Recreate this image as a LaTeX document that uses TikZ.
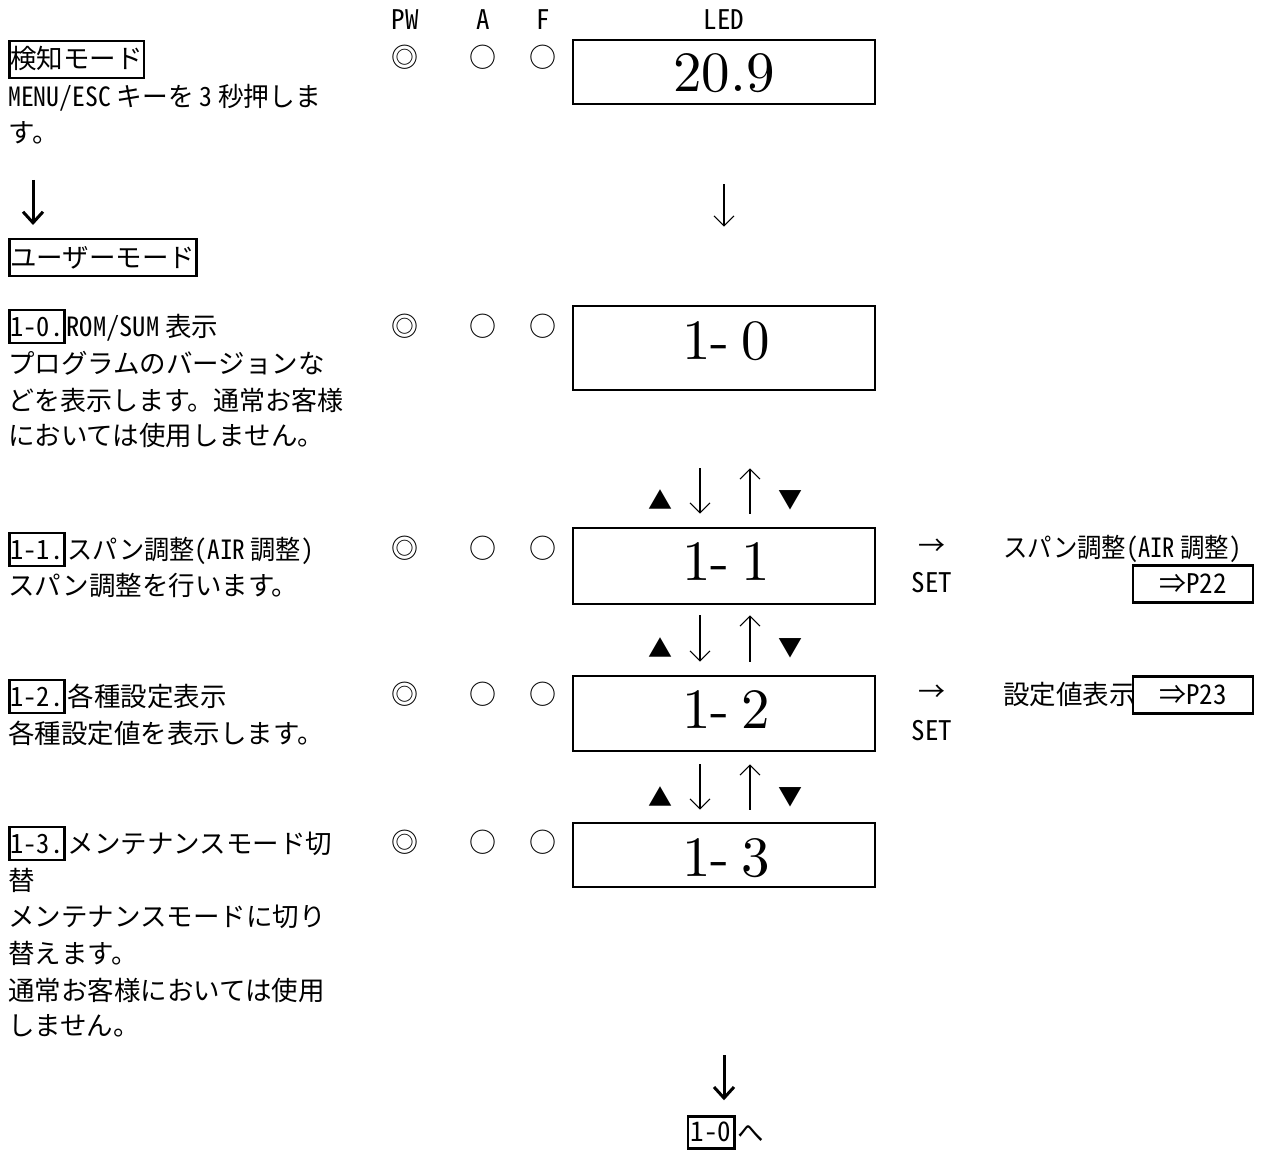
\documentclass[tikz,border=0pt]{standalone}
\usepackage{graphicx}
\usepackage{fontspec}
\newfontfamily\jp{Noto Sans CJK JP}
\newfontfamily\hw[RawFeature=+hwid]{Noto Sans CJK JP}
\newfontfamily\lmten{lmroman10-regular.otf}
\newcommand{\hwt}[1]{{\hw #1}}
\usetikzlibrary{arrows.meta}
\tikzset{
  jt/.style={font=\jp\fontsize{26.5}{36}\selectfont, inner sep=0pt, anchor=base west},
  lbox/.style={draw, line width=2.5pt, font=\jp\fontsize{26.5}{36}\selectfont, inner xsep=1pt, inner ysep=2pt, text height=24pt, text depth=5pt, anchor=base west},
  hbox/.style={lbox, inner ysep=4pt, line width=2.8pt},
  led/.style={draw, line width=2.6pt, minimum width=302pt, inner sep=0pt},
  ledtxt/.style={font=\lmten\fontsize{57}{60}\selectfont, inner sep=0pt},
  ind/.style={font=\jp\fontsize{27}{30}\selectfont, inner sep=0pt},
  hdr/.style={font=\hw\fontsize{27}{30}\selectfont, inner sep=0pt},
  tri/.style={font=\jp\fontsize{24}{30}\selectfont, inner sep=0pt},
  pbox/.style={draw, line width=2.5pt, minimum width=120pt, minimum height=37pt, inner sep=0pt, font=\hw\fontsize{27}{30}\selectfont},
  tarr/.style={line width=1.1pt, -{Straight Barb[length=10pt,width=20pt]}},
  barr/.style={line width=3pt, -{Straight Barb[length=11pt,width=20pt]}},
}
\begin{document}
\begin{tikzpicture}[x=1pt,y=-1pt]
\useasboundingbox (0,0) rectangle (1262,1153);
% header
\node[hdr] (hpw) at (405,20) {PW};
\node[hdr] (ha) at (483,20) {A};
\node[hdr] (hf) at (543,20) {F};
\node[hdr] (hled) at (724,20) {LED};
% detection mode
\node[hbox] (m0) at (8,69) {検知モード};
\node[jt] (t0a) at (8,107) {\scalebox{0.97}[1]{\hwt{MENU/ESC} キーを \hwt{3} 秒押しま}};
\node[jt] (t0b) at (8,143) {す。};
\node[ind] (p0) at (405,57) {◎};
\node[ind] (a0) at (483,57) {○};
\node[ind] (f0) at (543,57) {○};
\node[led, minimum height=64pt] (b0) at (724,72) {};
\node[ledtxt] (d0) at (724,73) {20.9};
% user mode
\coordinate (la) at (33,180);
\coordinate (lb) at (33,225);
\draw[barr] (la) -- (lb);
\node[hbox] (um) at (8,267) {ユーザーモード};
% 1-0
\node[lbox] (l10) at (8,336) {\hwt{1-0.}};
\node[jt] (t10) at ([xshift=1pt]l10.east |- 0,336) {\hwt{ROM/SUM} 表示};
\node[jt] (t10a) at (8,373) {プログラムのバージョンな};
\node[jt] (t10b) at (8,410) {\scalebox{0.98}[1]{どを表示します。通常お客様}};
\node[jt] (t10c) at (8,445) {においては使用しません。};
\node[ind] (p10) at (405,326) {◎};
\node[ind] (a10) at (483,326) {○};
\node[ind] (f10) at (543,326) {○};
\node[led, minimum height=84pt] (b10) at (724,348) {};
\node[ledtxt] (d10) at (726,341) {1-\hspace{0.2em}0};
\draw[tarr, shorten <=79pt, shorten >=78pt] (b0.south) -- (b10.north);
% 1-1
\node[lbox] (l11) at (8,559) {\hwt{1-1.}};
\node[jt] (t11) at ([xshift=2pt]l11.east |- 0,559) {\scalebox{0.95}[1]{スパン調整\hwt{(AIR} 調整\hwt{)}}};
\node[jt] (t11a) at (8,595) {スパン調整を行います。};
\node[ind] (p11) at (405,548) {◎};
\node[ind] (a11) at (483,548) {○};
\node[ind] (f11) at (543,548) {○};
\node[led, minimum height=76pt] (b11) at (724,566) {};
\node[ledtxt] (d11) at (726,562) {1-\hspace{0.2em}1};
\node[tri] (u1) at (660,500) {▲};
\node[tri] (v1) at (790,500) {▼};
\draw[tarr, shorten <=77pt, shorten >=13pt] ([xshift=-24pt]b10.south) -- ([xshift=-24pt]b11.north);
\draw[tarr, shorten <=13pt, shorten >=77pt] ([xshift=26pt]b11.north) -- ([xshift=26pt]b10.south);
\node[ind] (s11a) at (932,547) {→};
\node[hdr] (s11b) at (932,583) {SET};
\node[jt] (r11) at (1003,557) {\scalebox{0.92}[1]{スパン調整\hwt{(AIR} 調整\hwt{)}}};
\node[pbox] (q11) at (1193,584) {⇒P22};
% 1-2
\node[lbox] (l12) at (8,706) {\hwt{1-2.}};
\node[jt] (t12) at ([xshift=2pt]l12.east |- 0,706) {各種設定表示};
\node[jt] (t12a) at (8,743) {各種設定値を表示します。};
\node[ind] (p12) at (405,694) {◎};
\node[ind] (a12) at (483,694) {○};
\node[ind] (f12) at (543,694) {○};
\node[led, minimum height=75pt] (b12) at (724,713.5) {};
\node[ledtxt] (d12) at (726,710) {1-\hspace{0.2em}2};
\node[tri] (u2) at (660,648) {▲};
\node[tri] (v2) at (790,648) {▼};
\draw[tarr, shorten <=10pt, shorten >=13pt] ([xshift=-24pt]b11.south) -- ([xshift=-24pt]b12.north);
\draw[tarr, shorten <=13pt, shorten >=10pt] ([xshift=26pt]b12.north) -- ([xshift=26pt]b11.south);
\node[ind] (s12a) at (932,693) {→};
\node[hdr] (s12b) at (932,731) {SET};
\node[jt] (r12) at (1003,704) {設定値表示};
\node[pbox, fill=white] (q12) at (1193,695) {⇒P23};
% 1-3
\node[lbox] (l13) at (8,853) {\hwt{1-3.}};
\node[jt] (t13) at ([xshift=2pt]l13.east |- 0,853) {メンテナンスモード切};
\node[jt] (t13a) at (8,890) {替};
\node[jt] (t13b) at (8,926) {メンテナンスモードに切り};
\node[jt] (t13c) at (8,963) {替えます。};
\node[jt] (t13d) at (8,1000) {通常お客様においては使用};
\node[jt] (t13e) at (8,1035) {しません。};
\node[ind] (p13) at (405,842) {◎};
\node[ind] (a13) at (483,842) {○};
\node[ind] (f13) at (543,842) {○};
\node[led, minimum height=64pt] (b13) at (724,855) {};
\node[ledtxt] (d13) at (726,858) {1-\hspace{0.2em}3};
\node[tri] (u3) at (660,797) {▲};
\node[tri] (v3) at (790,797) {▼};
\draw[tarr, shorten <=12pt, shorten >=12pt] ([xshift=-24pt]b12.south) -- ([xshift=-24pt]b13.north);
\draw[tarr, shorten <=12pt, shorten >=12pt] ([xshift=26pt]b13.north) -- ([xshift=26pt]b12.south);
% back to 1-0
\node[draw, line width=2.5pt, font=\hw\fontsize{27}{30}\selectfont, inner xsep=3pt, inner ysep=3pt, text height=22pt, text depth=4pt] (r10) at (711,1132.5) {1-0};
\node[jt] (r10t) at ([xshift=2pt]r10.east |- 0,1142) {へ};
\draw[barr, shorten <=167pt, shorten >=15pt] (b13.south) -- (b13.south |- r10.north);
\end{tikzpicture}
\end{document}
